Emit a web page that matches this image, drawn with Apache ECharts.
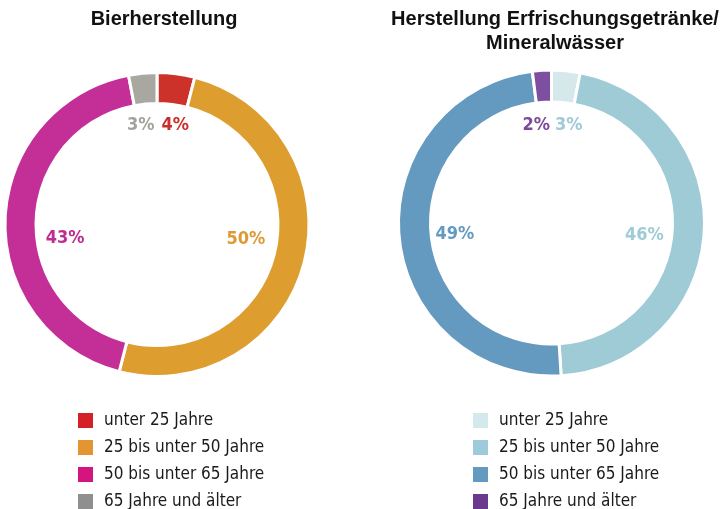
<!DOCTYPE html>
<html>
<head>
<meta charset="utf-8">
<script src="https://cdn.jsdelivr.net/npm/echarts@6/dist/echarts.min.js"></script>
<style>
  html, body { margin: 0; padding: 0; background: #fff; }
  #ch-main { width: 726px; height: 509px; }
</style>
</head>
<body>
<div id="ch-main"></div>
<script>
// age groups and shares (percent)
var ageGroups = ['unter 25 Jahre', '25 bis unter 50 Jahre', '50 bis unter 65 Jahre', '65 Jahre und älter'];
var bierValues = [4, 50, 43, 3];
var mineralValues = [3, 46, 49, 2];
var bierTitle = 'Bierherstellung';
var mineralTitle = 'Herstellung Erfrischungsgetränke/\nMineralwässer';

var bierColors = ['#cc3229', '#dd9d2f', '#c42e97', '#a8a8a0'];
var bierLabelColors = ['#c8302c', '#dc9a35', '#c02d90', '#a3a39b'];
var bierLegendColors = ['#d42027', '#e39531', '#d5157f', '#8f8f8f'];
var mineralColors = ['#d5e9ec', '#9ecbd6', '#649abf', '#7e4ea0'];
var mineralLabelColors = ['#9ecbd6', '#9ecbd6', '#649abf', '#7b4a9c'];
var mineralLegendColors = ['#d3e9ec', '#9dcbdc', '#649abf', '#6b3a8f'];

// small nudges so the labels sit like in the print version
var bierNudge = [[6, -2], [-6, -10], [6, 17], [-7, -2]];
var mineralNudge = [[8, 0], [-5, 6], [1, 2], [-9, 0]];

var myChart = echarts.init(document.getElementById('ch-main'));

function ringData(values, colors) {
    return values.map(function (v, i) {
        return { name: ageGroups[i], value: v, itemStyle: { color: colors[i] } };
    });
}

function labelData(values, labelColors) {
    return values.map(function (v, i) {
        return { name: ageGroups[i], value: v, label: { color: labelColors[i] } };
    });
}

function ring(center, radius, values, colors) {
    return {
        type: 'pie',
        center: center,
        radius: radius,
        startAngle: 90,
        clockwise: true,
        silent: true,
        label: { show: false },
        labelLine: { show: false },
        itemStyle: { borderColor: '#fff', borderWidth: 3 },
        data: ringData(values, colors)
    };
}

function labels(center, values, labelColors, nudge) {
    return {
        type: 'pie',
        center: center,
        radius: [0, 190],
        startAngle: 90,
        clockwise: true,
        silent: true,
        z: 5,
        itemStyle: { color: 'rgba(0,0,0,0)' },
        label: {
            show: true,
            position: 'inner',
            formatter: '{c}%',
            fontFamily: '"DejaVu Sans Condensed", sans-serif',
            fontWeight: 'bold',
            fontSize: 18
        },
        labelLine: { show: false },
        labelLayout: function (params) {
            var n = nudge[params.dataIndex];
            return { dx: n[0], dy: n[1] };
        },
        data: labelData(values, labelColors)
    };
}

function legend(left, legendColors) {
    return {
        orient: 'vertical',
        left: left,
        top: 411,
        height: 120,
        padding: 0,
        icon: 'rect',
        itemWidth: 17,
        itemHeight: 17,
        itemGap: 8,
        selectedMode: false,
        textStyle: {
            fontFamily: '"DejaVu Sans Condensed", "Liberation Sans Narrow", sans-serif',
            fontSize: 17,
            lineHeight: 17,
            color: '#1a1a1a',
            padding: [0, 0, 0, 5]
        },
        data: ageGroups.map(function (g, i) {
            return { name: g, itemStyle: { color: legendColors[i] } };
        })
    };
}

var titleFont = {
    fontFamily: '"Liberation Sans", Arial, sans-serif',
    fontWeight: 'bold',
    fontSize: 20,
    lineHeight: 24,
    color: '#111'
};

var option = {
    animation: false,
    title: [
        { text: bierTitle, left: 164, top: 7, padding: 0, textAlign: 'center', textStyle: titleFont },
        { text: mineralTitle, left: 555, top: 7, padding: 0, textAlign: 'center', textStyle: titleFont }
    ],
    legend: [legend(76, bierLegendColors), legend(471, mineralLegendColors)],
    series: [
        ring([157, 224.5], [121, 152], bierValues, bierColors),
        labels([157, 224.5], bierValues, bierLabelColors, bierNudge),
        ring([551.5, 223], [121, 153], mineralValues, mineralColors),
        labels([551.5, 223], mineralValues, mineralLabelColors, mineralNudge)
    ]
};

myChart.setOption(option);
</script>
</body>
</html>
